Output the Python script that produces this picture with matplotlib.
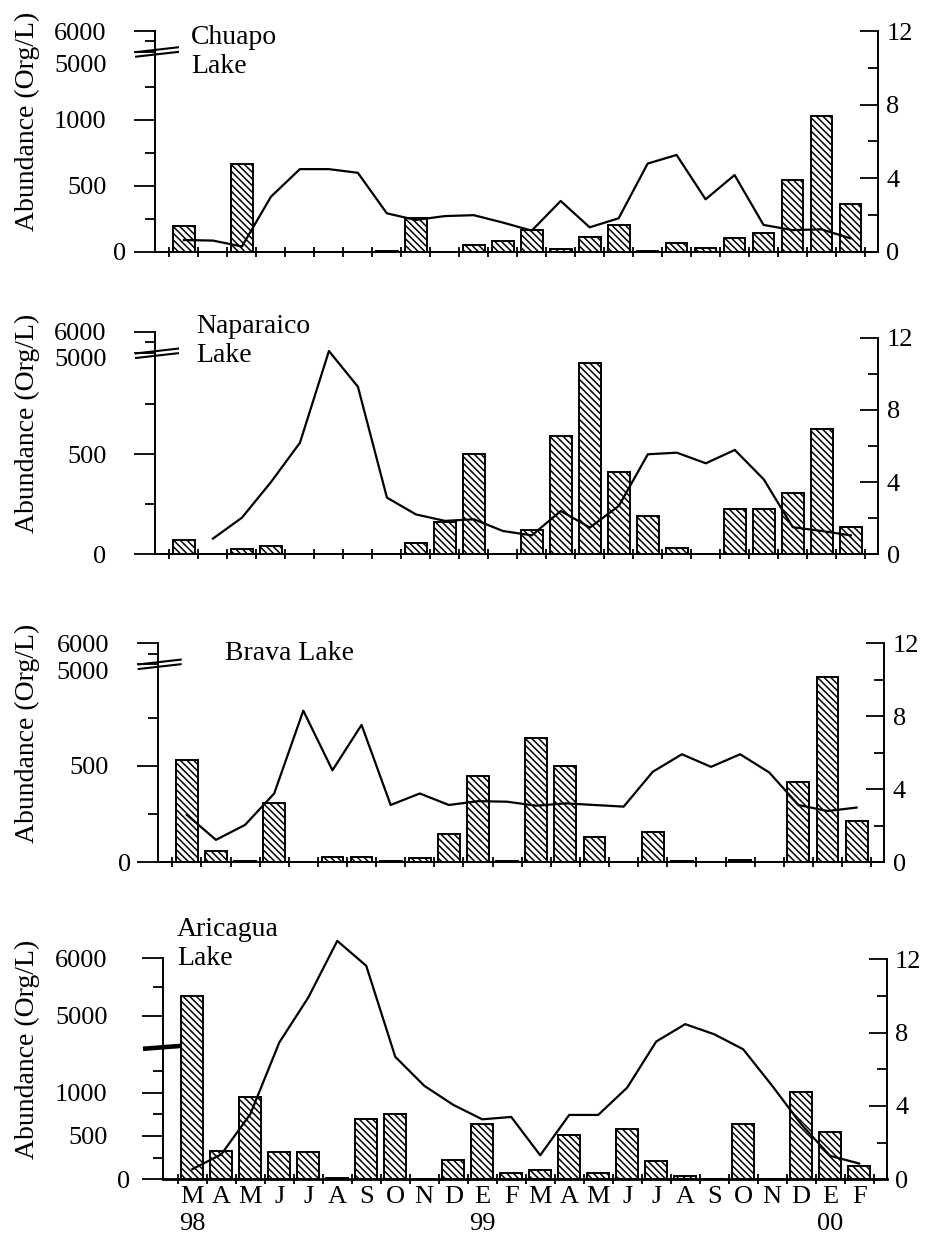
import numpy as np
import matplotlib
matplotlib.use("Agg")
import matplotlib.pyplot as plt
from matplotlib.transforms import ScaledTranslation

plt.rcParams['font.family'] = ['Liberation Serif', 'DejaVu Serif']
plt.rcParams['hatch.linewidth'] = 1.1

# ---------------- data ----------------
months = ['M', 'A', 'M', 'J', 'J', 'A', 'S', 'O', 'N', 'D', 'E', 'F',
          'M', 'A', 'M', 'J', 'J', 'A', 'S', 'O', 'N', 'D', 'E', 'F']
year_labels = {0: '98', 10: '99', 22: '00'}
lake_names = ['Chuapo\nLake', 'Naparaico\nLake', 'Brava Lake', 'Aricagua\nLake']

chuapo_abund = [195, 0, 670, 0, 0, 0, 0, 10, 255, 0, 53, 80,
                167, 25, 111, 205, 5, 66, 28, 104, 141, 545, 1033, 364]
chuapo_line = [0.65, 0.62, 0.3, 3.0, 4.5, 4.5, 4.3, 2.1, 1.74, 1.95, 2.0, 1.6,
               1.16, 2.77, 1.34, 1.83, 4.8, 5.27, 2.86, 4.18, 1.47, 1.19, 1.23, 0.74]

naparaico_abund = [70, 0, 25, 41, 0, 0, 0, 0, 55, 160, 500, 0,
                   121, 593, 958, 410, 193, 30, 0, 226, 226, 308, 625, 138]
naparaico_line = [np.nan, 0.87, 2.03, 4.0, 6.18, 11.26, 9.28, 3.14, 2.21, 1.85, 1.94, 1.29,
                  1.05, 2.4, 1.48, 2.68, 5.54, 5.63, 5.04, 5.78, 4.15, 1.5, 1.29, 1.05]

brava_abund = [530, 60, 5, 309, 0, 29, 26, 8, 21, 145, 449, 5,
               642, 499, 130, 0, 159, 5, 0, 12, 0, 414, 958, 214]
brava_line = [2.6, 1.23, 2.05, 3.77, 8.31, 5.04, 7.53, 3.14, 3.77, 3.14, 3.35, 3.32,
              3.1, 3.23, 3.14, 3.05, 4.96, 5.92, 5.23, 5.92, 4.92, 3.14, 2.81, 3.0]

aricagua_abund = [5350, 327, 954, 312, 312, 10, 696, 750, 0, 223, 638, 69,
                  107, 511, 76, 577, 211, 38, 5, 635, 0, 1004, 550, 157]
aricagua_line = [0.55, 1.36, 3.55, 7.46, 9.91, 13.0, 11.64, 6.68, 5.1, 4.06, 3.27, 3.4,
                 1.31, 3.51, 3.51, 5.0, 7.51, 8.46, 7.91, 7.09, 5.1, 3.0, 1.28, 0.86]

abund_series = [chuapo_abund, naparaico_abund, brava_abund, aricagua_abund]
line_series = [chuapo_line, naparaico_line, brava_line, aricagua_line]

# ---------------- layout (pixels) ----------------
FW, FH = 930, 1254
panels = [
    dict(left=155, right=878, bottom=252, top=31,
         xp=[0, 1500, 5000, 6000], fp=[0, 198, 200, 221], R=12.0,
         major=[0, 500, 1000, 5000, 6000], minor=[250, 750, 1250, 5500],
         brk=200, thick=False, zero_dx=20, dy5000=11, title_xy=(191, 52)),
    dict(left=155, right=878.3, bottom=554.3, top=331.7,
         xp=[0, 1000, 5000, 6000], fp=[0, 200, 201, 222.6], R=12.33,
         major=[0, 500, 5000, 6000], minor=[250, 750, 5500],
         brk=201, thick=False, zero_dx=0, dy5000=4, title_xy=(196, 341)),
    dict(left=157.7, right=884.3, bottom=862.3, top=643.3,
         xp=[0, 1000, 5000, 6000], fp=[0, 193, 198, 219], R=11.93,
         major=[0, 500, 5000, 6000], minor=[250, 750, 5500],
         brk=198, thick=False, zero_dx=22, dy5000=6, title_xy=(225, 653)),
    dict(left=163.3, right=886.7, bottom=1179.3, top=958.3,
         xp=[0, 1500, 4500, 5000, 6000], fp=[0, 130, 134.4, 163.3, 221], R=12.05,
         major=[0, 500, 1000, 5000, 6000], minor=[250, 750, 1250, 5500],
         brk=132, thick=True, zero_dx=22, dy5000=0, title_xy=(177, 944)),
]


def make_scale(xp, fp):
    xp = np.asarray(xp, float)
    fp = np.asarray(fp, float)

    def interp_ext(v, a, b):
        v = np.asarray(v, float)
        out = np.interp(v, a, b)
        s0 = (b[1] - b[0]) / (a[1] - a[0])
        s1 = (b[-1] - b[-2]) / (a[-1] - a[-2])
        out = np.where(v < a[0], b[0] + (v - a[0]) * s0, out)
        out = np.where(v > a[-1], b[-1] + (v - a[-1]) * s1, out)
        return out

    return (lambda v: interp_ext(v, xp, fp)), (lambda u: interp_ext(u, fp, xp))


fig = plt.figure(figsize=(FW / 100, FH / 100), dpi=100)
x = np.arange(len(months))
XL, XR = -1.0, 23.95

for k, cfg in enumerate(panels):
    W = cfg['right'] - cfg['left']
    H = cfg['bottom'] - cfg['top']
    ax = fig.add_axes([cfg['left'] / FW, 1 - cfg['bottom'] / FH, W / FW, H / FH])
    fwd, inv = make_scale(cfg['xp'], cfg['fp'])
    ax.set_yscale('function', functions=(fwd, inv))
    ax.set_ylim(0, 6000)
    ax.set_xlim(XL, XR)

    ax.bar(x, abund_series[k], width=0.75, facecolor='white', edgecolor='black',
           hatch='\\\\\\\\\\', linewidth=1.4, zorder=2)

    # spines
    for s in ['top', 'right']:
        ax.spines[s].set_visible(False)
    lw_bottom = 2.0 if cfg['thick'] else 1.4
    ax.spines['bottom'].set_linewidth(lw_bottom)
    ax.spines['left'].set_linewidth(1.4)

    # left ticks
    ax.set_yticks(cfg['major'])
    ax.set_yticklabels([str(v) for v in cfg['major']])
    ax.set_yticks(cfg['minor'], minor=True)
    ax.tick_params(axis='y', which='major', direction='out', length=15, width=1.3,
                   labelsize=19, pad=20 if k < 3 else 25)
    ax.tick_params(axis='y', which='minor', direction='out', length=7.5, width=1.3)

    # x ticks: boundaries (marks) and centers (labels)
    ax.set_xticks(np.arange(-0.5, len(months), 1.0))
    ax.set_xticklabels([])
    ax.set_xticks(x, minor=True)
    ax.tick_params(axis='x', which='major', direction='inout', length=7, width=1.3)
    ax.tick_params(axis='x', which='minor', length=0, pad=5, labelsize=19)
    if k == 3:
        labs = [m + ('\n' + year_labels[i] if i in year_labels else '') for i, m in enumerate(months)]
        ax.set_xticklabels(labs, minor=True)
        for lbl in ax.get_xticklabels(minor=True):
            lbl.set_linespacing(1.3)
    else:
        ax.set_xticklabels([], minor=True)

    # tick label nudges as in the original
    for lbl in ax.get_yticklabels():
        t = lbl.get_text()
        if t == '5000' and cfg['dy5000']:
            lbl.set_transform(lbl.get_transform() +
                              ScaledTranslation(0, -cfg['dy5000'] / 100, fig.dpi_scale_trans))
        if t == '0' and cfg['zero_dx']:
            lbl.set_transform(lbl.get_transform() +
                              ScaledTranslation(cfg['zero_dx'] / 100, 0, fig.dpi_scale_trans))

    ax.set_ylabel('Abundance (Org/L)', fontsize=20)
    ax.yaxis.set_label_coords((40 - cfg['left']) / W, 0.59)

    # axis break marks
    f = cfg['brk'] / H
    if cfg['thick']:
        x0, x1 = (143 - cfg['left']) / W, (182 - cfg['left']) / W
        ax.plot([x0, x1], [f - 1.5 / H, f + 1.5 / H], transform=ax.transAxes,
                color='black', lw=3.3, clip_on=False, solid_capstyle='butt', zorder=5)
    else:
        x0, x1 = -20 / W, 24 / W
        for d in (-2.3, 2.3):
            ax.plot([x0, x1], [f + (d - 2.5) / H, f + (d + 2.5) / H], transform=ax.transAxes,
                    color='black', lw=1.5, clip_on=False, solid_capstyle='butt', zorder=5)

    # right axis
    ax2 = ax.twinx()
    ax2.set_ylim(0, cfg['R'])
    ax2.set_xlim(XL, XR)
    ax2.plot(x, line_series[k], color='black', lw=1.6, clip_on=False, zorder=3)
    for s in ['top', 'left', 'bottom']:
        ax2.spines[s].set_visible(False)
    ax2.spines['right'].set_bounds(0, 12)
    ax2.spines['right'].set_linewidth(1.4)
    ax2.set_yticks([0, 4, 8, 12])
    ax2.set_yticks([2, 6, 10], minor=True)
    ax2.tick_params(axis='y', which='major', direction='in', length=13, width=1.3,
                    labelsize=19, pad=6)
    ax2.tick_params(axis='y', which='minor', direction='in', length=7, width=1.3)

    # lake name
    tx, ty = cfg['title_xy']
    fig.text(tx / FW, 1 - ty / FH, lake_names[k], fontsize=20, ha='left', va='center',
             linespacing=1.2)

fig.savefig('out.png', dpi=100)
